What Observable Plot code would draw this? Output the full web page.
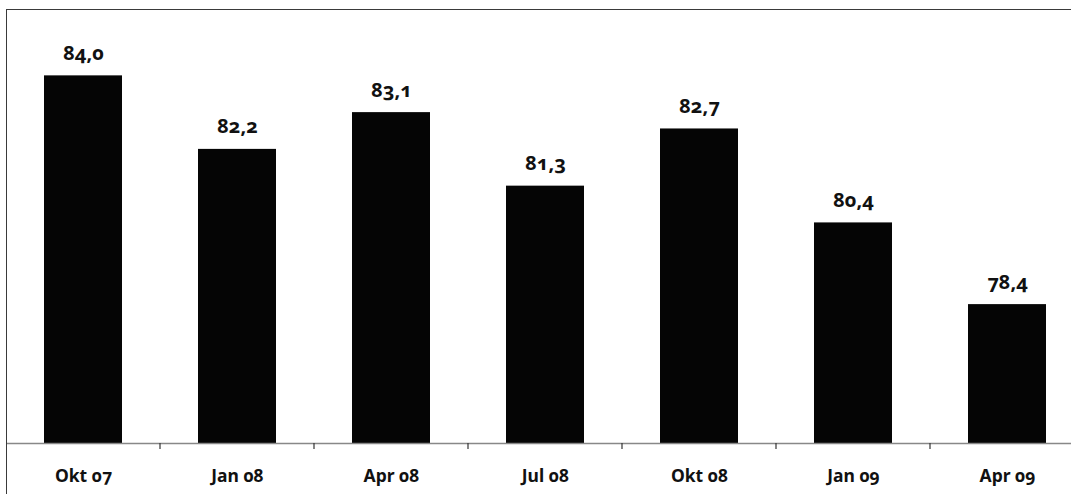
<!DOCTYPE html>
<html>
<head>
<meta charset="utf-8">
<script src="https://cdn.jsdelivr.net/npm/d3@7"></script>
<script src="https://cdn.jsdelivr.net/npm/@observablehq/plot@0.6"></script>
<style>
  html, body { margin: 0; padding: 0; background: #fff; overflow: hidden; width: 1071px; height: 494px; }
  #chart { position: absolute; left: 0; top: 0; width: 1090px; }
  #chart svg { max-width: none !important; }
  #border { position: absolute; left: 6px; top: 9px; width: 1200px; height: 600px;
            border: 1.5px solid #3a3a3a; pointer-events: none; }
  svg text { font-family: "Noto Sans", Lato, sans-serif;
             font-variant-numeric: oldstyle-nums; font-feature-settings: "onum" 1; }
</style>
</head>
<body>
<div id="chart"></div>
<div id="border"></div>
<script>
// Quarterly index values
const periods = ["Okt 07", "Jan 08", "Apr 08", "Jul 08", "Okt 08", "Jan 09", "Apr 09"];
const values = [84.0, 82.2, 83.1, 81.3, 82.7, 80.4, 78.4];
const yBase = 75;

const data = periods.map((p, i) => ({period: p, value: values[i]}));
const fmt = v => v.toFixed(1).replace(".", ",");

// Short ticks below the axis between neighbouring categories
function boundaryTicks(index, scales, channels, dims) {
  const x = scales.x;
  const bw = typeof x.bandwidth === "function" ? x.bandwidth()
           : (scales.scales && scales.scales.x ? scales.scales.x.bandwidth : 0);
  const y0 = scales.y(yBase);
  const g = d3.create("svg:g").attr("stroke", "#333").attr("stroke-width", 1.2);
  for (let i = 1; i < periods.length; i++) {
    const bx = (x(periods[i - 1]) + x(periods[i]) + bw) / 2;
    g.append("line").attr("x1", bx).attr("x2", bx).attr("y1", y0).attr("y2", y0 + 6);
  }
  return g.node();
}

const chart = Plot.plot({
  width: 1090,
  height: 494,
  marginLeft: 6,
  marginRight: 6,
  marginTop: 10,
  marginBottom: 51,
  style: {background: "transparent", maxWidth: "none"},
  x: {domain: periods, paddingInner: 0.494, paddingOuter: 0.247, label: null},
  y: {domain: [yBase, 85.6], axis: null},
  marks: [
    Plot.barY(data, {x: "period", y1: yBase, y2: "value", fill: "#050505"}),
    Plot.ruleY([yBase], {stroke: "#888", strokeWidth: 1.3}),
    boundaryTicks,
    Plot.text(data, {
      x: "period", y: "value", text: d => fmt(d.value),
      dy: -16, lineAnchor: "bottom",
      fontSize: 20, fontWeight: "bold", fill: "#111"
    }),
    Plot.axisX({
      tickSize: 0, tickPadding: 26, fontSize: 17.5, fontWeight: "bold",
      color: "#111", label: null
    })
  ]
});
document.getElementById("chart").appendChild(chart);
</script>
</body>
</html>
